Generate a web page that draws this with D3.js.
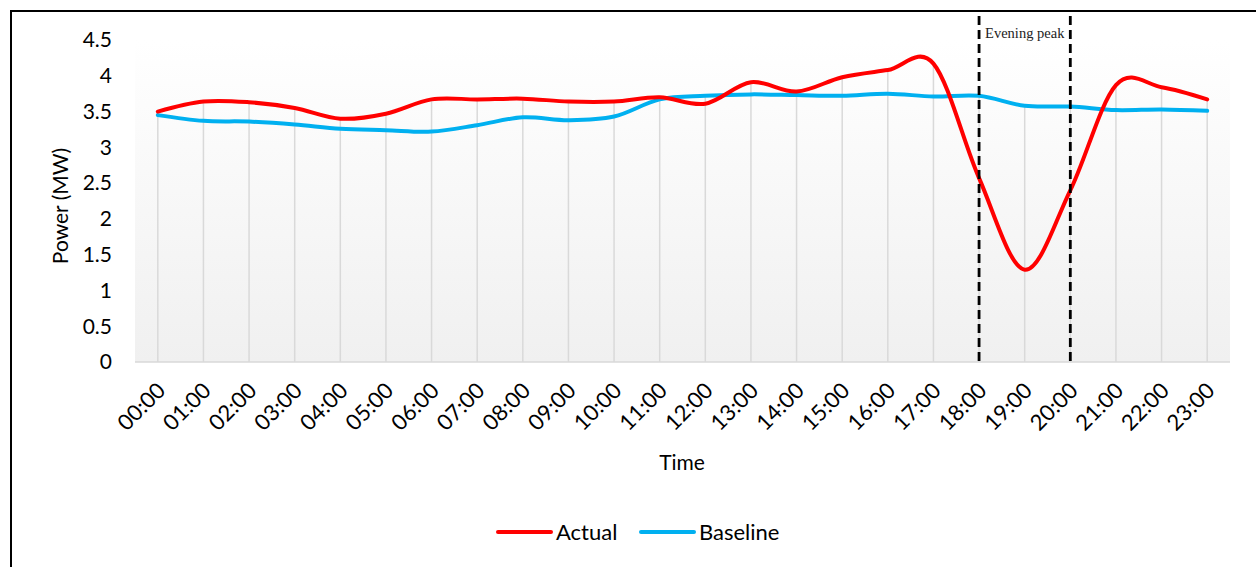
<!DOCTYPE html>
<html><head><meta charset="utf-8">
<script src="https://cdn.jsdelivr.net/npm/d3@7"></script>
<style>body{margin:0;background:#fff;overflow:hidden}</style>
</head><body>
<svg id="c" width="1256" height="567"></svg>
<script>
const times = ["00:00","01:00","02:00","03:00","04:00","05:00","06:00","07:00","08:00","09:00","10:00","11:00","12:00","13:00","14:00","15:00","16:00","17:00","18:00","19:00","20:00","21:00","22:00","23:00"];
const actual = [3.50,3.64,3.63,3.55,3.40,3.47,3.67,3.67,3.68,3.64,3.64,3.70,3.61,3.91,3.78,3.98,4.08,4.17,2.57,1.29,2.40,3.87,3.84,3.67];
const baseline = [3.45,3.37,3.36,3.32,3.26,3.24,3.22,3.31,3.42,3.38,3.43,3.67,3.72,3.74,3.73,3.72,3.75,3.71,3.72,3.58,3.57,3.52,3.53,3.51];
const yTicks = [0,0.5,1,1.5,2,2.5,3,3.5,4,4.5];
const peakWindow = ["18:00","20:00"];
const peakLabel = "Evening peak";
const seriesNames = ["Actual","Baseline"];
const seriesColors = ["#ff0000","#00b0f0"];

const svg = d3.select("#c");
const font = "Lato, 'Open Sans', sans-serif";
const L = 135, R = 1230, T = 40, B = 362;

const x = d3.scalePoint().domain(times).range([L, R]).padding(0.5);
const y = d3.scaleLinear().domain([0, 4.5]).range([B, T]);

// outer border
svg.append("path").attr("d", `M11,567 L11,11 L1256,11`).attr("fill","none").attr("stroke","#000").attr("stroke-width",2);

// plot background gradient
const defs = svg.append("defs");
const g = defs.append("linearGradient").attr("id","bg").attr("x1",0).attr("y1",0).attr("x2",0).attr("y2",1);
g.append("stop").attr("offset","0%").attr("stop-color","#ffffff");
g.append("stop").attr("offset","100%").attr("stop-color","#f0f0f0");
svg.append("rect").attr("x",L).attr("y",T).attr("width",R-L).attr("height",B-T).attr("fill","url(#bg)");

// drop lines
svg.append("g").selectAll("line").data(times).join("line")
  .attr("x1", d => x(d)).attr("x2", d => x(d))
  .attr("y1", (d,i) => y(Math.max(actual[i], baseline[i])))
  .attr("y2", B)
  .attr("stroke","#d9d9d9").attr("stroke-width",1.5);

// x axis line
svg.append("line").attr("x1",L).attr("x2",R).attr("y1",B).attr("y2",B).attr("stroke","#d9d9d9").attr("stroke-width",1.5);

// y tick labels
svg.append("g").selectAll("text").data(yTicks).join("text")
  .attr("x",112).attr("y", d => y(d)).attr("dy","0.35em")
  .attr("text-anchor","end").attr("font-family",font).attr("font-size",21).attr("fill","#000")
  .text(d => d);

// x tick labels
svg.append("g").selectAll("text").data(times).join("text")
  .attr("transform", d => `translate(${x(d)-2},${381}) rotate(-45)`)
  .attr("text-anchor","end").attr("dy","0.7em")
  .attr("font-family",font).attr("font-size",22).attr("fill","#000")
  .text(d => d);

// axis titles
svg.append("text").attr("transform",`translate(68,${(T+B)/2+5}) rotate(-90)`)
  .attr("text-anchor","middle").attr("font-family",font).attr("font-size",21).text("Power (MW)");
svg.append("text").attr("x",682).attr("y",470).attr("text-anchor","middle")
  .attr("font-family",font).attr("font-size",21).text("Time");

// lines
const line = d3.line().x((d,i) => x(times[i])).y(d => y(d)).curve(d3.curveCardinal.tension(0));
[baseline, actual].forEach((s, k) => {
  const idx = k === 0 ? 1 : 0;
  svg.append("path").attr("d", line(s)).attr("fill","none")
    .attr("stroke", seriesColors[idx]).attr("stroke-width",4).attr("stroke-linecap","round");
});

// peak window
peakWindow.forEach(t => {
  svg.append("line").attr("x1",x(t)).attr("x2",x(t)).attr("y1",16).attr("y2",B)
    .attr("stroke","#000").attr("stroke-width",2.8).attr("stroke-dasharray","9,5");
});
svg.append("text").attr("x", x(peakWindow[0])+6).attr("y",38)
  .attr("font-family","'Liberation Serif', 'Times New Roman', serif").attr("font-size",14.5).attr("fill","#222")
  .text(peakLabel);

// legend
const legX = [498, 641];
seriesNames.forEach((n,i) => {
  svg.append("line").attr("x1",legX[i]).attr("x2",legX[i]+53).attr("y1",532).attr("y2",532)
    .attr("stroke",seriesColors[i]).attr("stroke-width",4).attr("stroke-linecap","round");
  svg.append("text").attr("x",legX[i]+58).attr("y",532).attr("dy","0.35em")
    .attr("font-family",font).attr("font-size",22).text(n);
});
</script>
</body></html>
